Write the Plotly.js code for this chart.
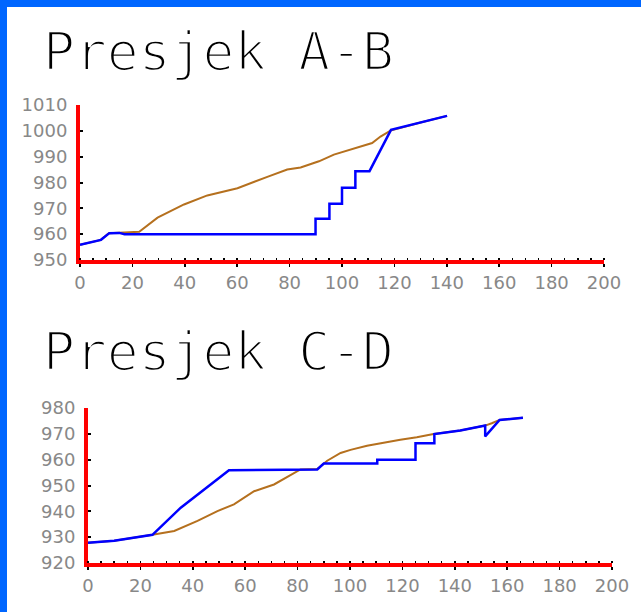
<!DOCTYPE html>
<html>
<head>
<meta charset="utf-8">
<script src="https://cdn.plot.ly/plotly-3.0.1.min.js"></script>
<style>
  html, body { margin: 0; padding: 0; background: #fff; }
  #chart { width: 641px; height: 612px; }
  .annotation-text { stroke: #ffffff; stroke-width: 2.4px; }
</style>
</head>
<body>
<div id="chart"></div>
<script>
// ---- Presjek A-B ----
const abTerrainX = [0, 8, 11, 15, 22.6, 29.6, 39.7, 48.6, 60.1, 71.5, 79.1, 84.2, 91.2, 96.9, 103.2, 111.5, 114.7, 118.5, 130, 140.1];
const abTerrainY = [955.9, 957.8, 960.4, 960.5, 960.9, 966.4, 971.5, 975, 977.8, 982.2, 985, 985.8, 988.2, 990.8, 992.7, 995.3, 997.8, 1000.1, 1003.2, 1005.8];
const abDesignX = [0, 8, 11.2, 15, 17, 89.9, 89.9, 95.2, 95.2, 100, 100, 105.1, 105.1, 110.5, 118.7, 130, 140.1];
const abDesignY = [955.9, 957.8, 960.4, 960.5, 960, 960, 966, 966, 971.8, 971.8, 978, 978, 984.4, 984.4, 1000.4, 1003.2, 1005.8];

// ---- Presjek C-D ----
const cdTerrainX = [0, 10, 24.6, 32.9, 41.8, 49.4, 55.7, 63.4, 71, 77.3, 81.1, 87.5, 91.3, 96.4, 100.2, 106.5, 112.9, 119.2, 125.5, 131.9, 142.1, 151.6, 154.1, 157.1, 166];
const cdTerrainY = [927.8, 928.6, 930.9, 932.4, 936.3, 940.1, 942.7, 947.8, 950.4, 954.2, 956.2, 956.4, 959.6, 962.6, 963.8, 965.4, 966.7, 967.7, 968.7, 969.9, 971.3, 973.2, 974.1, 975.4, 976.2];
const cdDesignX = [0, 10, 24.6, 35.4, 53.8, 81.1, 87.5, 90, 110.4, 110.4, 125, 125, 132.2, 132.2, 142.1, 151.6, 151.6, 157.1, 166];
const cdDesignY = [927.8, 928.6, 930.9, 941.4, 955.9, 956.2, 956.2, 958.5, 958.5, 960, 960, 966.4, 966.4, 969.9, 971.3, 973.2, 969, 975.4, 976.2];

const titles = ['Presjek A-B', 'Presjek C-D'];
const xTicks = [0, 20, 40, 60, 80, 100, 120, 140, 160, 180, 200];
const abYTicks = [950, 960, 970, 980, 990, 1000, 1010];
const cdYTicks = [920, 930, 940, 950, 960, 970, 980];

const terrainColor = '#b5701e';
const designColor = '#0000ff';

const traces = [
  {x: abTerrainX, y: abTerrainY, xaxis: 'x', yaxis: 'y', mode: 'lines', line: {color: terrainColor, width: 2}},
  {x: abDesignX, y: abDesignY, xaxis: 'x', yaxis: 'y', mode: 'lines', line: {color: designColor, width: 2.5}},
  {x: cdTerrainX, y: cdTerrainY, xaxis: 'x2', yaxis: 'y2', mode: 'lines', line: {color: terrainColor, width: 2}},
  {x: cdDesignX, y: cdDesignY, xaxis: 'x2', yaxis: 'y2', mode: 'lines', line: {color: designColor, width: 2.5}}
];

const W = 641, H = 612;
const tickFont = {family: 'DejaVu Sans', size: 18, color: '#888888'};

function xAx(domain, anchor) {
  return {
    domain: domain, anchor: anchor, range: [0, 200], tickvals: xTicks, ticktext: xTicks.map(String),
    showgrid: false, zeroline: false, showline: true, linecolor: '#ff0000', linewidth: 4,
    ticks: 'outside', ticklen: 3, tickwidth: 1.5, tickcolor: '#000',
    minor: {dtick: 5, tick0: 0, ticks: 'inside', ticklen: 2, tickwidth: 1.5, tickcolor: '#000', showgrid: false},
    tickfont: tickFont, ticklabelstandoff: 0, fixedrange: true
  };
}
function yAx(domain, anchor, range, vals) {
  return {
    domain: domain, anchor: anchor, range: range, tickvals: vals, ticktext: vals.map(String),
    showgrid: false, zeroline: false, showline: true, linecolor: '#ff0000', linewidth: 4,
    ticks: 'inside', ticklen: 3, tickwidth: 2, tickcolor: '#000',
    tickfont: tickFont, ticklabelstandoff: 5, fixedrange: true
  };
}

const layout = {
  width: W, height: H,
  margin: {l: 0, r: 0, t: 0, b: 0},
  paper_bgcolor: '#0066ff',
  plot_bgcolor: 'rgba(0,0,0,0)',
  showlegend: false,
  xaxis: xAx([80 / W, 604 / W], 'y'),
  yaxis: yAx([1 - 260 / H, 1 - 105 / H], 'x', [950, 1010], abYTicks),
  xaxis2: xAx([88 / W, 612 / W], 'y2'),
  yaxis2: yAx([1 - 563 / H, 1 - 408 / H], 'x2', [920, 980], cdYTicks),
  shapes: [
    {type: 'rect', xref: 'paper', yref: 'paper', x0: 7 / W, x1: 1.01, y0: -0.01, y1: 1 - 7 / H,
     fillcolor: '#ffffff', line: {width: 0}, layer: 'below'}
  ],
  annotations: [
    {text: titles[0], xref: 'paper', yref: 'paper', x: 41 / W, y: 1 - 51 / H, xanchor: 'left', yanchor: 'middle',
     showarrow: false, font: {family: 'DejaVu Sans Mono', size: 53, color: '#000'}},
    {text: titles[1], xref: 'paper', yref: 'paper', x: 41 / W, y: 1 - 351 / H, xanchor: 'left', yanchor: 'middle',
     showarrow: false, font: {family: 'DejaVu Sans Mono', size: 53, color: '#000'}}
  ]
};

Plotly.newPlot('chart', traces, layout, {displayModeBar: false, staticPlot: true});
</script>
</body>
</html>
